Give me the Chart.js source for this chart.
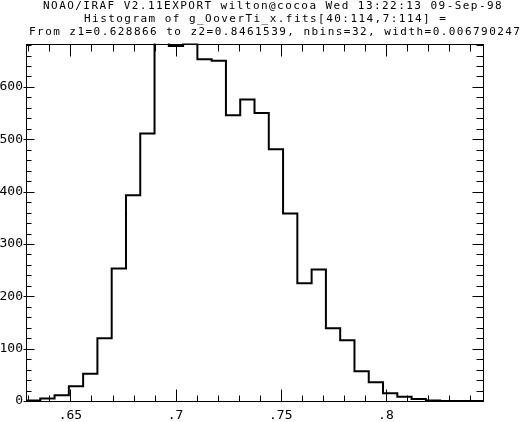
<!DOCTYPE html>
<html>
<head>
<meta charset="utf-8">
<script src="https://cdn.jsdelivr.net/npm/chart.js@4"></script>
<style>
  html, body { margin: 0; padding: 0; background: #fff; }
  #wrap { width: 522px; height: 422px; }
</style>
</head>
<body>
<div id="wrap"><canvas id="chart"></canvas></div>
<script>
// Datos del histograma
const titleLines = [
    'NOAO/IRAF V2.11EXPORT wilton@cocoa Wed 13:22:13 09-Sep-98',
    'Histogram of g_OoverTi_x.fits[40:114,7:114] =',
    'From z1=0.628866 to z2=0.8461539, nbins=32, width=0.006790247'
];
const z1 = 0.628866;
const z2 = 0.8461539;
const binWidth = 0.006790247;
const counts = [1, 5, 11, 28, 52, 120, 253, 393, 511, 760, 678, 683,
                653, 650, 546, 576, 550, 481, 358, 225, 251, 139, 116, 57,
                36, 15, 8, 4, 1, 0, 0, 0];
const xTickValues = [0.65, 0.7, 0.75, 0.8];
const xTickLabels = ['.65', '.7', '.75', '.8'];
const yTickValues = [0, 100, 200, 300, 400, 500, 600];
const yTickLabels = ['0', '100', '200', '300', '400', '500', '600'];
const yMax = 683;

// puntos en el borde izquierdo de cada bin, más el borde final
const puntos = counts.map((c, i) => ({ x: z1 + i * binWidth, y: c }));
puntos.push({ x: z2, y: counts[counts.length - 1] });

// Título y marco con marcas estilo IRAF
const irafPlugin = {
    id: 'iraf',
    beforeDraw(chart) {
        const c = chart.ctx;
        c.save();
        c.fillStyle = '#fff';
        c.fillRect(0, 0, chart.width, chart.height);
        c.restore();
    },
    afterDraw(chart) {
        const c = chart.ctx;
        const a = chart.chartArea;
        const xs = chart.scales.x;
        const ys = chart.scales.y;
        c.save();

        // título
        c.fillStyle = '#000';
        c.font = '11px "DejaVu Sans Mono"';
        c.letterSpacing = '1.45px';
        c.textBaseline = 'middle';
        c.textAlign = 'left';
        const startX = [43, 84, 29];
        const lineY = [6.5, 19, 32];
        titleLines.forEach((t, i) => c.fillText(t, startX[i], lineY[i]));
        c.letterSpacing = '0px';

        // marco
        c.strokeStyle = '#000';
        c.lineWidth = 1;
        const L = Math.round(a.left) + 0.5, R = Math.round(a.right) + 0.5;
        const T = Math.round(a.top) + 0.5, B = Math.round(a.bottom) + 0.5;
        c.strokeRect(L, T, R - L, B - T);

        c.beginPath();
        // marcas en x
        for (let k = 63; k <= 84; k++) {
            const v = k / 100;
            const px = Math.round(xs.getPixelForValue(v)) + 0.5;
            const mayor = k % 5 === 0;
            c.moveTo(px, B); c.lineTo(px, B - (mayor ? 12 : 6));
            c.moveTo(px, T); c.lineTo(px, T + (mayor ? 12 : 7));
        }
        // marcas en y
        for (let v = 0; v <= 680; v += 20) {
            const py = Math.round(ys.getPixelForValue(v)) + 0.5;
            const mayor = v % 100 === 0;
            if (mayor) {
                c.moveTo(L - 3, py); c.lineTo(L + 8, py);
                c.moveTo(R, py); c.lineTo(R - 11, py);
            } else {
                c.moveTo(L, py); c.lineTo(L + 5, py);
                c.moveTo(R, py); c.lineTo(R - 7, py);
            }
        }
        c.stroke();
        c.restore();
    }
};

new Chart(document.getElementById('chart'), {
    type: 'line',
    data: {
        datasets: [{
            data: puntos,
            stepped: 'before',
            borderColor: '#000',
            borderWidth: 2,
            pointRadius: 0,
            fill: false
        }]
    },
    options: {
        responsive: true,
        maintainAspectRatio: false,
        animation: false,
        layout: { padding: { top: 43.5, right: 39, left: 0, bottom: 0 } },
        plugins: { legend: { display: false }, tooltip: { enabled: false }, title: { display: false } },
        scales: {
            x: {
                type: 'linear',
                min: z1,
                max: z2,
                grid: { display: false, drawTicks: false },
                border: { display: false },
                afterBuildTicks: (s) => { s.ticks = xTickValues.map(v => ({ value: v })); },
                afterFit: (s) => { s.height = 21; },
                ticks: {
                    color: '#000',
                    padding: 7,
                    maxRotation: 0,
                    autoSkip: false,
                    font: { family: '"DejaVu Sans Mono"', size: 13 },
                    callback: (v, i) => xTickLabels[i]
                }
            },
            y: {
                min: 0,
                max: yMax,
                grid: { display: false, drawTicks: false },
                border: { display: false },
                afterBuildTicks: (s) => { s.ticks = yTickValues.map(v => ({ value: v })); },
                afterFit: (s) => { s.width = 26; },
                ticks: {
                    color: '#000',
                    padding: 3,
                    autoSkip: false,
                    font: { family: '"DejaVu Sans Mono"', size: 13 },
                    callback: (v, i) => yTickLabels[i]
                }
            }
        }
    },
    plugins: [irafPlugin]
});
</script>
</body>
</html>
